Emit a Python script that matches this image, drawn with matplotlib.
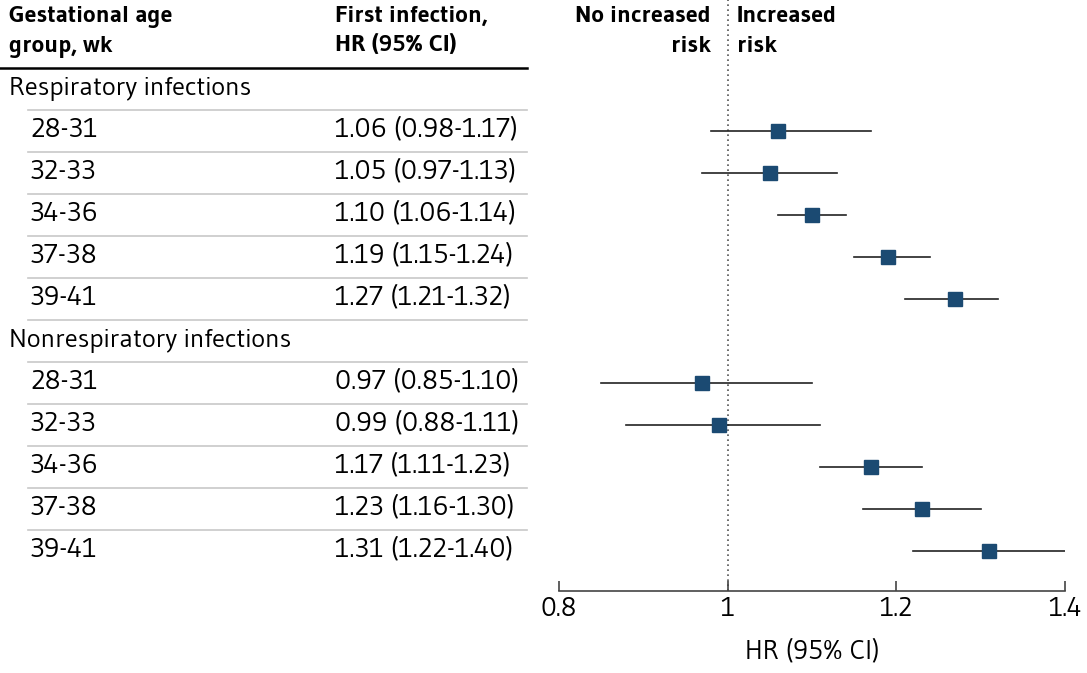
import matplotlib
matplotlib.use("Agg")
import matplotlib.pyplot as plt
from matplotlib.transforms import blended_transform_factory
from matplotlib.lines import Line2D

plt.rcParams['font.family'] = ['Gudea', 'DejaVu Sans']

# ---- data ----
groups = ["Respiratory infections", "Nonrespiratory infections"]
age_groups = ["28-31", "32-33", "34-36", "37-38", "39-41"]
hr_resp = [1.06, 1.05, 1.10, 1.19, 1.27]
lo_resp = [0.98, 0.97, 1.06, 1.15, 1.21]
hi_resp = [1.17, 1.13, 1.14, 1.24, 1.32]
hr_nonresp = [0.97, 0.99, 1.17, 1.23, 1.31]
lo_nonresp = [0.85, 0.88, 1.11, 1.16, 1.22]
hi_nonresp = [1.10, 1.11, 1.23, 1.30, 1.40]
hr_labels_resp = ["1.06 (0.98-1.17)", "1.05 (0.97-1.13)", "1.10 (1.06-1.14)",
                  "1.19 (1.15-1.24)", "1.27 (1.21-1.32)"]
hr_labels_nonresp = ["0.97 (0.85-1.10)", "0.99 (0.88-1.11)", "1.17 (1.11-1.23)",
                     "1.23 (1.16-1.30)", "1.31 (1.22-1.40)"]
xticks = [0.8, 1.0, 1.2, 1.4]
xtick_labels = ["0.8", "1", "1.2", "1.4"]

W, H = 1087, 673
fig = plt.figure(figsize=(W / 100, H / 100), dpi=100)

ax_left, ax_right, ax_bottom = 559, 1065, 591
ax = fig.add_axes([ax_left / W, (H - ax_bottom) / H, (ax_right - ax_left) / W, ax_bottom / H])
row_h = 42.0
first_row_px = 89.0
ax.set_xlim(0.8, 1.4)
ax.set_ylim((ax_bottom - first_row_px) / row_h, -first_row_px / row_h)

for s in ["top", "right", "left"]:
    ax.spines[s].set_visible(False)
ax.spines["bottom"].set_color("#444444")
ax.spines["bottom"].set_linewidth(1.2)
ax.set_yticks([])
ax.set_xticks(xticks)
ax.set_xticklabels(xtick_labels, fontsize=19.5)
ax.tick_params(axis="x", direction="in", length=7, width=1.2, color="#444444", pad=4)
ax.set_xlabel("HR (95% CI)", fontsize=19.3, labelpad=13)

ax.axvline(1.0, color="#555555", linestyle=(0, (1, 2)), linewidth=1.2, zorder=1)

marker_color = "#1b4a72"
tr = blended_transform_factory(fig.transFigure, ax.transData)

def px(x):
    return x / W

fs = 19
fs_num = 20
fs_head = 17.3
k = 0
for g, hrs, los, his, labs in [(groups[0], hr_resp, lo_resp, hi_resp, hr_labels_resp),
                                (groups[1], hr_nonresp, lo_nonresp, hi_nonresp, hr_labels_nonresp)]:
    ax.text(px(9), k, g, transform=tr, fontsize=fs, va="center", ha="left", clip_on=False)
    fig.add_artist(Line2D([px(28), px(527)], [k + 0.5, k + 0.5], transform=tr,
                          color="#c8c8c8", linewidth=1.2))
    k += 1
    for i, (a, h, lo, hi, lab) in enumerate(zip(age_groups, hrs, los, his, labs)):
        ax.text(px(30), k, a, transform=tr, fontsize=fs_num, va="center", ha="left", clip_on=False)
        ax.text(px(335), k, lab, transform=tr, fontsize=fs_num, va="center", ha="left", clip_on=False)
        ax.plot([lo, hi], [k, k], color="#222222", linewidth=1.2, zorder=2)
        ax.plot([h], [k], marker="s", markersize=9.5, color=marker_color, zorder=3,
                markeredgecolor=marker_color)
        if not (g == groups[1] and i == len(age_groups) - 1):
            fig.add_artist(Line2D([px(28), px(527)], [k + 0.5, k + 0.5], transform=tr,
                                  color="#c8c8c8", linewidth=1.2))
        k += 1

# header
y1 = (17 - first_row_px) / row_h
y2 = (47 - first_row_px) / row_h
ax.text(px(9), y1, "Gestational age", transform=tr, fontsize=fs_head, fontweight="bold", va="center", clip_on=False)
ax.text(px(9), y2, "group, wk", transform=tr, fontsize=fs_head, fontweight="bold", va="center", clip_on=False)
ax.text(px(335), y1, "First infection,", transform=tr, fontsize=fs_head, fontweight="bold", va="center", clip_on=False)
ax.text(px(335), y2, "HR (95% CI)", transform=tr, fontsize=fs_head, fontweight="bold", va="center", clip_on=False)
fig.add_artist(Line2D([px(0), px(527)], [-0.5, -0.5], transform=tr, color="black", linewidth=1.8))

ax.text(0.98, y1, "No increased", fontsize=fs_head, fontweight="bold", va="center", ha="right", clip_on=False)
ax.text(0.98, y2, "risk", fontsize=fs_head, fontweight="bold", va="center", ha="right", clip_on=False)
ax.text(1.011, y1, "Increased", fontsize=fs_head, fontweight="bold", va="center", ha="left", clip_on=False)
ax.text(1.011, y2, "risk", fontsize=fs_head, fontweight="bold", va="center", ha="left", clip_on=False)

fig.savefig("out.png", dpi=100)
